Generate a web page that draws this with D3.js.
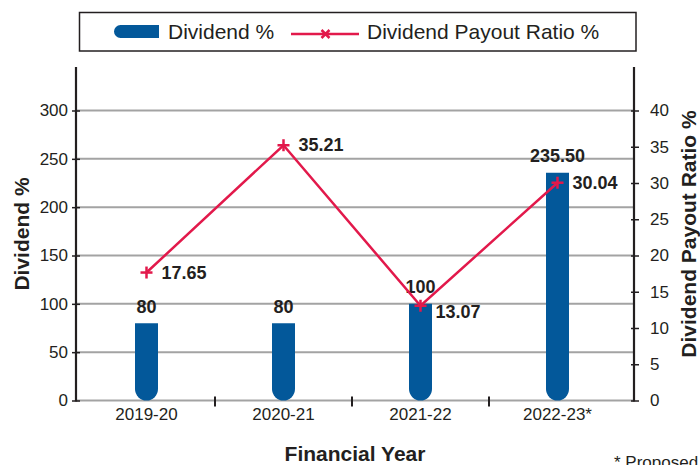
<!DOCTYPE html>
<meta charset="utf-8">
<style>
body { margin: 0; background: #fff; }
svg text { font-family: "Liberation Sans", Arial, sans-serif; fill: #231f20; }
.tick text { font-size: 17px; }
.grid line { stroke: #a3a3a3; stroke-width: 2px; }
.bar { fill: #03589a; }
.ratio-line { fill: none; stroke: #e2194b; stroke-width: 2.5px; }
.marker { stroke: #e2194b; stroke-width: 2.5px; }
.val { font-size: 18px; font-weight: bold; }
.title { font-size: 21px; font-weight: bold; }
</style>
<body>
<div id="chart"></div>
<script src="https://cdn.jsdelivr.net/npm/d3@7"></script>
<script>
// data
var years = ["2019-20", "2020-21", "2021-22", "2022-23*"];
var dividend = [80, 80, 100, 235.5];
var dividendLabels = ["80", "80", "100", "235.50"];
var payout = [17.65, 35.21, 13.07, 30.04];
var leftTicks = [0, 50, 100, 150, 200, 250, 300];
var rightTicks = [0, 5, 10, 15, 20, 25, 30, 35, 40];

var W = 700, H = 465;
var plotL = 76, plotR = 634, plotB = 400.5, plotT = 67;

var svg = d3.select("#chart").append("svg")
    .attr("width", W).attr("height", H);

var x = d3.scaleBand().domain(years).range([78, 626]);
var yL = d3.scaleLinear().domain([0, 345]).range([plotB, plotT]);
var yR = d3.scaleLinear().domain([0, 46]).range([plotB, plotT]);

// grid lines (0 line is the x axis)
svg.append("g").attr("class", "grid")
  .selectAll("line").data(leftTicks).enter().append("line")
    .attr("x1", plotL).attr("x2", plotR)
    .attr("y1", function(d) { return yL(d); })
    .attr("y2", function(d) { return yL(d); });

// x axis ticks between categories
svg.append("g").selectAll("line").data(years.slice(1)).enter().append("line")
    .attr("x1", function(d) { return x(d); }).attr("x2", function(d) { return x(d); })
    .attr("y1", plotB - 4).attr("y2", plotB + 6)
    .attr("stroke", "#231f20").attr("stroke-width", 2);

svg.append("g").selectAll("text").data(years).enter().append("text")
    .attr("x", function(d) { return x(d) + x.bandwidth() / 2; })
    .attr("y", 420)
    .attr("text-anchor", "middle")
    .style("font-size", "17px")
    .text(function(d) { return d; });

// bars with rounded bottom
var bw = 23, r = bw / 2;
svg.append("g").selectAll("path").data(dividend).enter().append("path")
    .attr("class", "bar")
    .attr("d", function(d, i) {
      var cx = x(years[i]) + x.bandwidth() / 2;
      var p = d3.path();
      p.moveTo(cx - r, yL(d));
      p.lineTo(cx + r, yL(d));
      p.lineTo(cx + r, yL(0) - r);
      p.arc(cx, yL(0) - r, r, 0, Math.PI, false);
      p.closePath();
      return p.toString();
    });

svg.append("g").selectAll("text").data(dividend).enter().append("text")
    .attr("class", "val")
    .attr("x", function(d, i) { return x(years[i]) + x.bandwidth() / 2; })
    .attr("y", function(d) { return yL(d) - 10.5; })
    .attr("text-anchor", "middle")
    .text(function(d, i) { return dividendLabels[i]; });

// axes
var axL = svg.append("g").attr("transform", "translate(" + plotL + ",0)")
    .call(d3.axisLeft(yL).tickValues(leftTicks).tickSize(4).tickPadding(4));
var axR = svg.append("g").attr("transform", "translate(" + plotR + ",0)")
    .call(d3.axisRight(yR).tickValues(rightTicks).tickSize(5).tickPadding(11));
[axL, axR].forEach(function(ax) {
  ax.select(".domain").remove();
  ax.selectAll(".tick line").attr("stroke", "#231f20").attr("stroke-width", 1.5);
  ax.selectAll(".tick text").attr("fill", "#231f20");
});
axL.selectAll(".tick line").attr("x2", -4).attr("x1", 4);
axR.selectAll(".tick line").attr("x1", -3).attr("x2", 5);

svg.append("g").selectAll("line").data([plotL, plotR]).enter().append("line")
    .attr("x1", function(d) { return d; }).attr("x2", function(d) { return d; })
    .attr("y1", plotT).attr("y2", plotB + 1)
    .attr("stroke", "#231f20").attr("stroke-width", 2.2);

// payout ratio line
var line = d3.line()
    .x(function(d, i) { return x(years[i]) + x.bandwidth() / 2; })
    .y(function(d) { return yR(d); });
svg.append("path").datum(payout).attr("class", "ratio-line").attr("d", line);

var mk = svg.append("g").selectAll("g").data(payout).enter().append("g")
    .attr("transform", function(d, i) {
      return "translate(" + (x(years[i]) + x.bandwidth() / 2) + "," + yR(d) + ")";
    });
mk.append("line").attr("class", "marker").attr("x1", -6).attr("x2", 6);
mk.append("line").attr("class", "marker").attr("y1", -6).attr("y2", 6);

var labelDy = [6, 6, 12, 6];
svg.append("g").selectAll("text").data(payout).enter().append("text")
    .attr("class", "val")
    .attr("x", function(d, i) { return x(years[i]) + x.bandwidth() / 2 + 15; })
    .attr("y", function(d, i) { return yR(d) + labelDy[i]; })
    .text(function(d) { return d.toFixed(2); });

// axis titles
svg.append("text").attr("class", "title")
    .attr("transform", "translate(29,234) rotate(-90)")
    .attr("text-anchor", "middle").text("Dividend %");
svg.append("text").attr("class", "title")
    .attr("transform", "translate(696,234) rotate(-90)")
    .attr("text-anchor", "middle").text("Dividend Payout Ratio %");
svg.append("text").attr("class", "title")
    .attr("x", 355).attr("y", 461)
    .attr("text-anchor", "middle").text("Financial Year");
svg.append("text")
    .attr("x", 614).attr("y", 468)
    .style("font-size", "17px").text("* Proposed");

// legend
var lg = svg.append("g");
lg.append("rect").attr("x", 79.5).attr("y", 12.5).attr("width", 556.5).attr("height", 38.5)
    .attr("fill", "#fff").attr("stroke", "#231f20").attr("stroke-width", 1.5);
var lp = d3.path();
lp.moveTo(159, 25); lp.lineTo(120.5, 25);
lp.arc(120.5, 31.5, 6.5, -Math.PI / 2, Math.PI / 2, true);
lp.lineTo(159, 38); lp.closePath();
lg.append("path").attr("class", "bar").attr("d", lp.toString());
lg.append("text").attr("x", 168).attr("y", 39).style("font-size", "21px").text("Dividend %");
lg.append("line").attr("x1", 291).attr("x2", 359).attr("y1", 34).attr("y2", 34)
    .attr("stroke", "#e2194b").attr("stroke-width", 2.5);
lg.append("path").attr("d", "M321.5,30L329.5,38M329.5,30L321.5,38")
    .attr("stroke", "#e2194b").attr("stroke-width", 2.5);
lg.append("text").attr("x", 367).attr("y", 39).style("font-size", "21px").text("Dividend Payout Ratio %");
</script>
</body>
